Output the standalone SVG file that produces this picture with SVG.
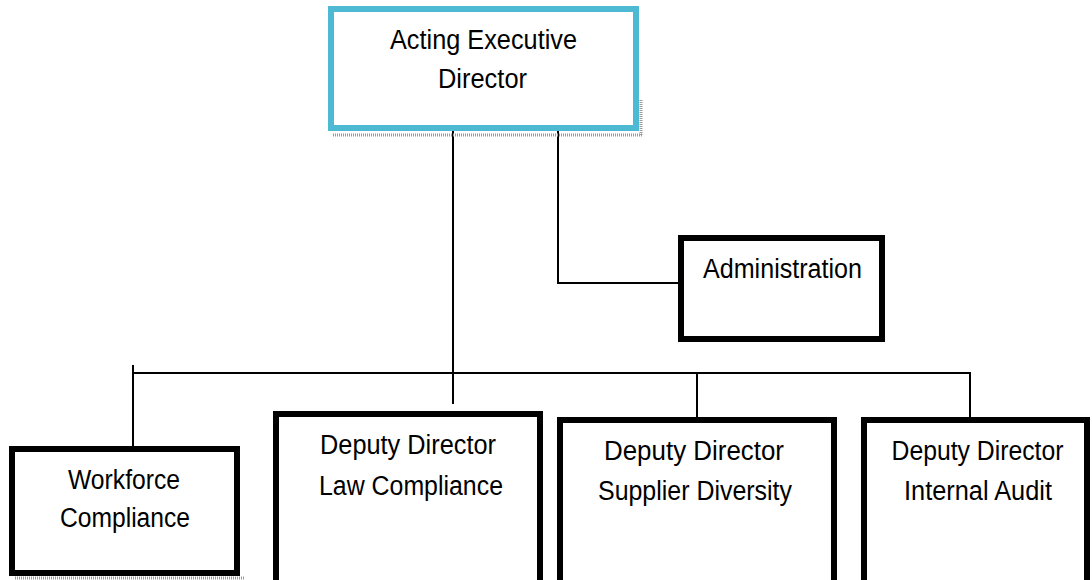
<svg xmlns="http://www.w3.org/2000/svg" width="1092" height="580" viewBox="0 0 1092 580">
<style>
.box{fill:#fff;stroke:#000;stroke-width:6}
.top{fill:#fff;stroke:#4DB9D2;stroke-width:6}
.lbl{font-family:"Liberation Sans",Arial,sans-serif;font-size:27px;fill:#000;text-anchor:middle}
.conn{stroke:#000;stroke-width:2;fill:none}
.shadow{stroke:#9a9a9a;stroke-width:3;stroke-dasharray:1 1;fill:none}
</style>
<rect width="1092" height="580" fill="#fff"/>
<g id="connectors">
<line class="conn" x1="453" y1="131" x2="453" y2="404"/>
<polyline class="conn" points="558,131 558,283 678,283"/>
<line class="conn" x1="133" y1="373" x2="971" y2="373"/>
<line class="conn" x1="133" y1="365" x2="133" y2="446"/>
<line class="conn" x1="697" y1="373" x2="697" y2="417"/>
<line class="conn" x1="970" y1="373" x2="970" y2="417"/>
</g>
<g id="node-executive">
<line class="shadow" x1="333" y1="135" x2="642" y2="135"/>
<line class="shadow" x1="641" y1="100" x2="641" y2="135"/>
<rect class="top" x="331" y="9" width="305" height="119"/>
<text class="lbl" x="483.5" y="49" textLength="187" lengthAdjust="spacingAndGlyphs">Acting Executive</text>
<text class="lbl" x="482.5" y="88" textLength="89" lengthAdjust="spacingAndGlyphs">Director</text>
</g>
<g id="node-administration">
<rect class="box" x="681" y="238" width="201" height="101"/>
<text class="lbl" x="782.5" y="278" textLength="159" lengthAdjust="spacingAndGlyphs">Administration</text>
</g>
<g id="node-workforce">
<line class="shadow" x1="15" y1="578" x2="245" y2="578"/>
<rect class="box" x="12" y="449" width="225" height="124"/>
<text class="lbl" x="124" y="489" textLength="112" lengthAdjust="spacingAndGlyphs">Workforce</text>
<text class="lbl" x="125" y="527" textLength="130" lengthAdjust="spacingAndGlyphs">Compliance</text>
</g>
<g id="node-law">
<rect class="box" x="276" y="414" width="264" height="180"/>
<text class="lbl" x="408" y="454" textLength="176" lengthAdjust="spacingAndGlyphs">Deputy Director</text>
<text class="lbl" x="411" y="495" textLength="184" lengthAdjust="spacingAndGlyphs">Law Compliance</text>
</g>
<g id="node-supplier">
<rect class="box" x="560" y="420" width="274" height="180"/>
<text class="lbl" x="694" y="460" textLength="180" lengthAdjust="spacingAndGlyphs">Deputy Director</text>
<text class="lbl" x="695" y="500" textLength="194" lengthAdjust="spacingAndGlyphs">Supplier Diversity</text>
</g>
<g id="node-audit">
<rect class="box" x="864" y="420" width="223" height="180"/>
<text class="lbl" x="977.5" y="460" textLength="172" lengthAdjust="spacingAndGlyphs">Deputy Director</text>
<text class="lbl" x="978" y="500" textLength="148" lengthAdjust="spacingAndGlyphs">Internal Audit</text>
</g>
</svg>
